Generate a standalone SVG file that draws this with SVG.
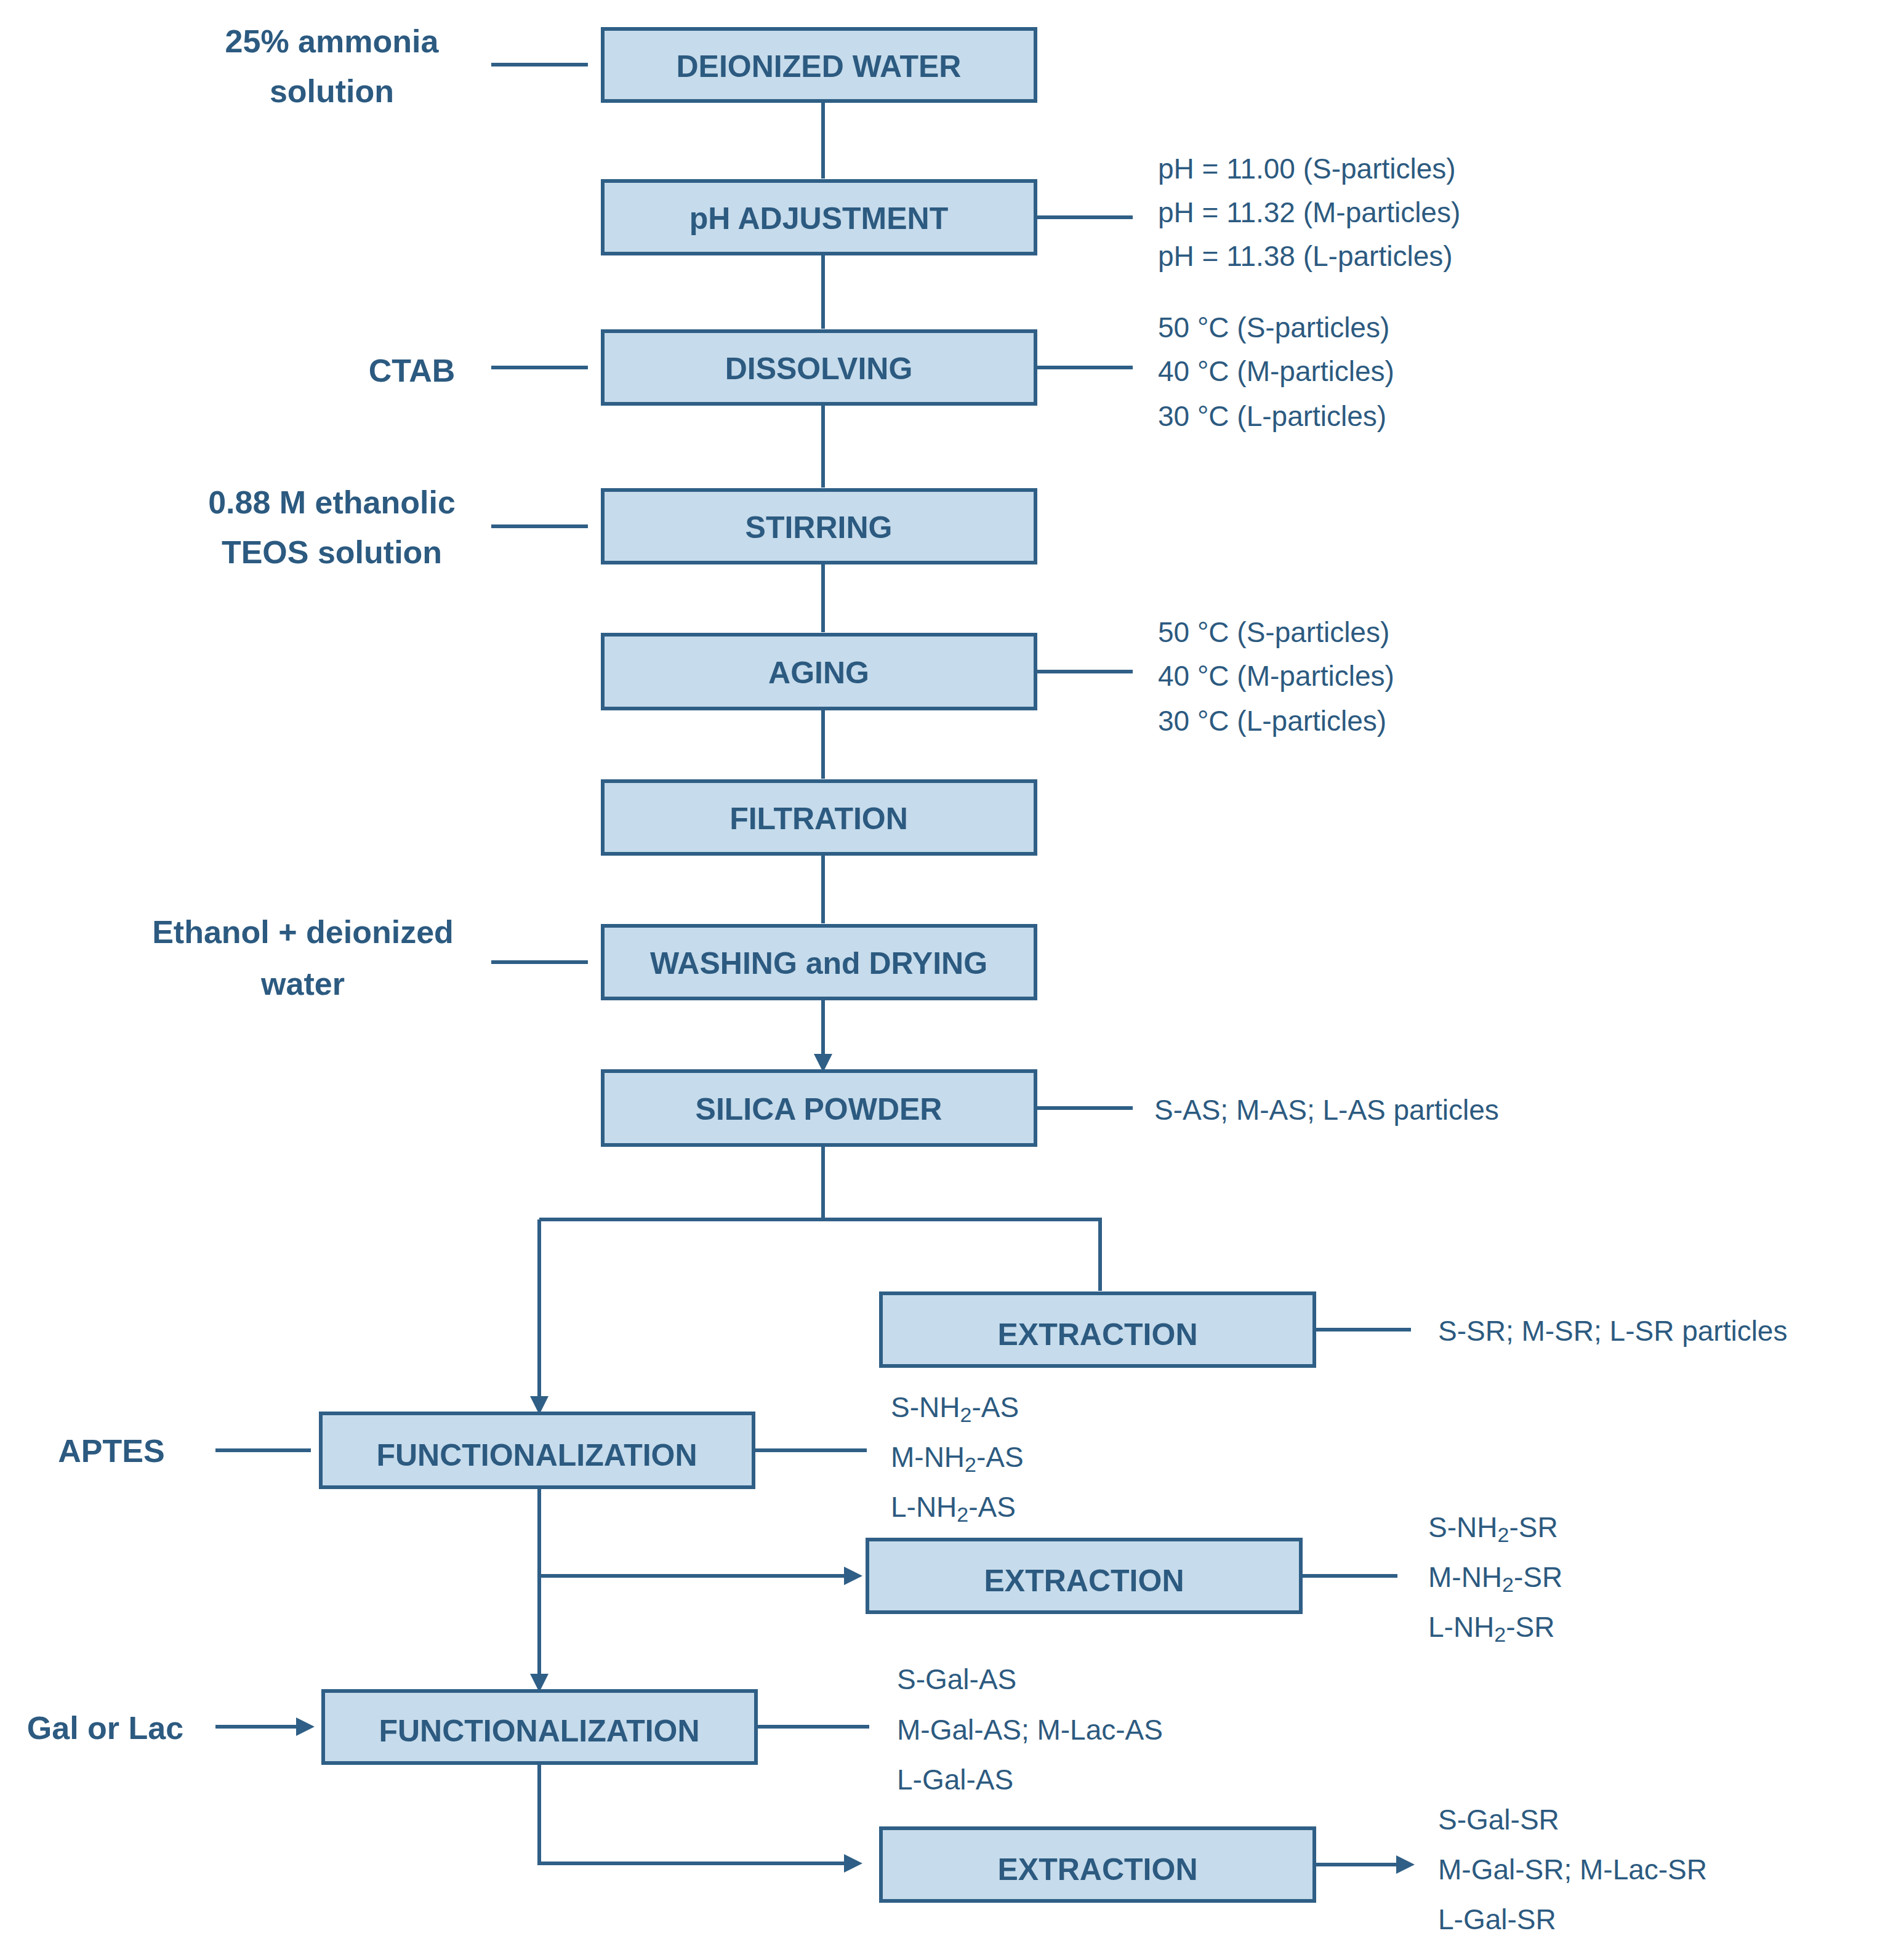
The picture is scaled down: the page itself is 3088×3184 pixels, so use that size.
<svg xmlns="http://www.w3.org/2000/svg" width="3088" height="3184" viewBox="0 0 3088 3184">
<style>
.b{fill:#c6dbeb;stroke:#2f5f86;stroke-width:6}
.t{font-family:"Liberation Sans",Arial,sans-serif;font-weight:bold;font-size:50px;fill:#2c5a80;text-anchor:middle;dominant-baseline:central}
.l{font-family:"Liberation Sans",Arial,sans-serif;font-weight:bold;font-size:52px;fill:#2c5a80;text-anchor:middle;dominant-baseline:central}
.r{font-family:"Liberation Sans",Arial,sans-serif;font-size:46px;fill:#2c5a80;dominant-baseline:central}
.c{fill:none;stroke:#2f5f86;stroke-width:6}
</style>
<defs><marker id="a" markerWidth="5" markerHeight="5" refX="4" refY="2.5" orient="auto" markerUnits="strokeWidth"><path d="M0,0L5,2.5L0,5z" fill="#2f5f86"/></marker></defs>
<g id="connectors" class="c">
<path d="M1337,164V290M1337,412V534M1337,656V792M1337,914V1027M1337,1151V1265M1337,1387V1500M1337,1622V1736" marker-end="url(#a)"/>
<path d="M1337,1860V1981M876,1981H1787V2097M876,1981V2292" marker-end="url(#a)"/>
<path d="M876,2416V2743" marker-end="url(#a)"/>
<path d="M876,2560H1395" marker-end="url(#a)"/>
<path d="M876,2864V3027H1395" marker-end="url(#a)"/>
<path d="M798,105H955M798,597H955M798,855H955M798,1563H955M350,2356H505M350,2805H505" marker-end="url(#a)"/>
<path d="M1682,353H1840M1682,597H1840M1682,1091H1840M1682,1800H1840M2135,2160H2292M1224,2356H1408M2113,2560H2270M1228,2805H1412M2135,3029H2292" marker-end="url(#a)"/>
</g>
<g id="n1"><rect class="b" x="979" y="47" width="703" height="117"/><text class="t" x="1330" y="108">DEIONIZED WATER</text></g>
<g id="n2"><rect class="b" x="979" y="294" width="703" height="118"/><text class="t" x="1330" y="355">pH ADJUSTMENT</text></g>
<g id="n3"><rect class="b" x="979" y="538" width="703" height="118"/><text class="t" x="1330" y="599">DISSOLVING</text></g>
<g id="n4"><rect class="b" x="979" y="796" width="703" height="118"/><text class="t" x="1330" y="857">STIRRING</text></g>
<g id="n5"><rect class="b" x="979" y="1031" width="703" height="120"/><text class="t" x="1330" y="1093">AGING</text></g>
<g id="n6"><rect class="b" x="979" y="1269" width="703" height="118"/><text class="t" x="1330" y="1330">FILTRATION</text></g>
<g id="n7"><rect class="b" x="979" y="1504" width="703" height="118"/><text class="t" x="1330" y="1565">WASHING and DRYING</text></g>
<g id="n8"><rect class="b" x="979" y="1740" width="703" height="120"/><text class="t" x="1330" y="1802">SILICA POWDER</text></g>
<g id="n9"><rect class="b" x="1431" y="2101" width="704" height="118"/><text class="t" x="1783" y="2168">EXTRACTION</text></g>
<g id="n10"><rect class="b" x="521" y="2296" width="703" height="120"/><text class="t" x="872" y="2364">FUNCTIONALIZATION</text></g>
<g id="n11"><rect class="b" x="1409" y="2501" width="704" height="118"/><text class="t" x="1761" y="2568">EXTRACTION</text></g>
<g id="n12"><rect class="b" x="525" y="2747" width="703" height="117"/><text class="t" x="876" y="2812">FUNCTIONALIZATION</text></g>
<g id="n13"><rect class="b" x="1431" y="2970" width="704" height="118"/><text class="t" x="1783" y="3037">EXTRACTION</text></g>
<g id="labels">
<text class="l" x="539" y="67">25% ammonia</text><text class="l" x="539" y="148">solution</text>
<text class="l" x="669" y="602">CTAB</text>
<text class="l" x="539" y="816">0.88 M ethanolic</text><text class="l" x="539" y="897">TEOS solution</text>
<text class="l" x="492" y="1514">Ethanol + deionized</text><text class="l" x="492" y="1598">water</text>
<text class="l" x="181" y="2357">APTES</text>
<text class="l" x="171" y="2807">Gal or Lac</text>
<text class="r" x="1881" y="274">pH = 11.00 (S-particles)</text>
<text class="r" x="1881" y="345">pH = 11.32 (M-particles)</text>
<text class="r" x="1881" y="416">pH = 11.38 (L-particles)</text>
<text class="r" x="1881" y="532">50 °C (S-particles)</text>
<text class="r" x="1881" y="603">40 °C (M-particles)</text>
<text class="r" x="1881" y="676">30 °C (L-particles)</text>
<text class="r" x="1881" y="1027">50 °C (S-particles)</text>
<text class="r" x="1881" y="1098">40 °C (M-particles)</text>
<text class="r" x="1881" y="1171">30 °C (L-particles)</text>
<text class="r" x="1875" y="1803" font-size="50">S-AS; M-AS; L-AS particles</text>
<text class="r" x="2336" y="2162" font-size="50">S-SR; M-SR; L-SR particles</text>
<text class="r" x="1447" y="2286" font-size="50">S-NH<tspan font-size="34" dy="12">2</tspan><tspan dy="-12">-AS</tspan></text>
<text class="r" x="1447" y="2367" font-size="50">M-NH<tspan font-size="34" dy="12">2</tspan><tspan dy="-12">-AS</tspan></text>
<text class="r" x="1447" y="2448" font-size="50">L-NH<tspan font-size="34" dy="12">2</tspan><tspan dy="-12">-AS</tspan></text>
<text class="r" x="2320" y="2481" font-size="50">S-NH<tspan font-size="34" dy="12">2</tspan><tspan dy="-12">-SR</tspan></text>
<text class="r" x="2320" y="2562" font-size="50">M-NH<tspan font-size="34" dy="12">2</tspan><tspan dy="-12">-SR</tspan></text>
<text class="r" x="2320" y="2643" font-size="50">L-NH<tspan font-size="34" dy="12">2</tspan><tspan dy="-12">-SR</tspan></text>
<text class="r" x="1457" y="2728" font-size="50">S-Gal-AS</text>
<text class="r" x="1457" y="2810" font-size="50">M-Gal-AS; M-Lac-AS</text>
<text class="r" x="1457" y="2891" font-size="50">L-Gal-AS</text>
<text class="r" x="2336" y="2956" font-size="50">S-Gal-SR</text>
<text class="r" x="2336" y="3037" font-size="50">M-Gal-SR; M-Lac-SR</text>
<text class="r" x="2336" y="3118" font-size="50">L-Gal-SR</text>
</g>
</svg>
